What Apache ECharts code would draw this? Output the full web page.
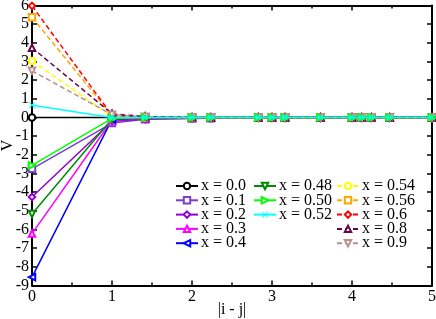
<!DOCTYPE html>
<html>
<head>
<meta charset="utf-8">
<script src="https://cdn.jsdelivr.net/npm/echarts@6/dist/echarts.min.js"></script>
<style>html,body{margin:0;padding:0;background:#fff}#c{width:436px;height:319px}</style>
</head>
<body>
<div id="c"></div>
<script>
// distances |i - j|
var xs = [0, 1, 1.4142, 2, 2.2361, 2.8284, 3, 3.1623, 3.6056, 4, 4.1231, 4.2426, 4.4721, 5];
var names = ['x = 0.0','x = 0.1','x = 0.2','x = 0.3','x = 0.4','x = 0.48','x = 0.50','x = 0.52','x = 0.54','x = 0.56','x = 0.6','x = 0.8','x = 0.9'];
var v00 = [0, 0, 0, 0, 0, 0, 0, 0, 0, 0, 0, 0, 0, 0];
var v01 = [-2.75, -0.3, -0.1, -0.05, -0.04, -0.02, -0.01, -0.01, 0, 0, 0, 0, 0, 0];
var v02 = [-4.26, -0.2, -0.08, -0.04, -0.03, -0.01, -0.01, 0, 0, 0, 0, 0, 0, 0];
var v03 = [-6.22, -0.15, -0.05, -0.02, -0.01, 0, 0, 0, 0, 0, 0, 0, 0, 0];
var v04 = [-8.55, -0.1, -0.03, -0.01, 0, 0, 0, 0, 0, 0, 0, 0, 0, 0];
var v048 = [-5.17, -0.08, -0.02, 0, 0, 0, 0, 0, 0, 0, 0, 0, 0, 0];
var v050 = [-2.57, -0.05, -0.01, 0, 0, 0, 0, 0, 0, 0, 0, 0, 0, 0];
var v052 = [0.66, 0, 0, 0, 0, 0, 0, 0, 0, 0, 0, 0, 0, 0];
var v054 = [3.03, 0.05, 0.01, 0, 0, 0, 0, 0, 0, 0, 0, 0, 0, 0];
var v056 = [5.37, 0.1, 0.02, 0, 0, 0, 0, 0, 0, 0, 0, 0, 0, 0];
var v06 = [5.98, 0.12, 0.03, 0.01, 0, 0, 0, 0, 0, 0, 0, 0, 0, 0];
var v08 = [3.74, 0.2, 0.05, 0.01, 0, 0, 0, 0, 0, 0, 0, 0, 0, 0];
var v09 = [2.5, 0.15, 0.04, 0.01, 0, 0, 0, 0, 0, 0, 0, 0, 0, 0];
var values = [v00, v01, v02, v03, v04, v048, v050, v052, v054, v056, v06, v08, v09];
var xTicks = [0, 1, 2, 3, 4, 5];
var yTicks = [-9, -8, -7, -6, -5, -4, -3, -2, -1, 0, 1, 2, 3, 4, 5, 6];

var colors = ['#000000','#7a3fcc','#9400d3','#ff00ff','#0000ff','#008b00','#00ff00','#00ffff','#ffff00','#ffa500','#ff0000','#670748','#bc8f8f'];
var cross = 'path://M0,1L1,0L5,4L9,0L10,1L6,5L10,9L9,10L5,6L1,10L0,9L4,5Z';
var symbols = ['emptyCircle','emptyRect','emptyDiamond','emptyTriangle','emptyTriangle','emptyTriangle','emptyTriangle',cross,'emptyCircle','emptyRect','emptyDiamond','emptyTriangle','emptyTriangle'];
var rotates = [0,0,0,0,90,180,-90,0,0,0,0,0,180];
var dashed = [false,false,false,false,false,false,false,false,true,true,true,true,true];
var layer = [2,2,2,2,2,2,4,5,2,2,2,2,2];

var font = 'Liberation Serif';
var series = names.map(function(n, i){
  return {
    name: n, type: 'line', z: layer[i],
    data: xs.map(function(x, k){ return [x, values[i][k]]; }),
    symbol: symbols[i], symbolRotate: rotates[i],
    symbolSize: 6.5,
    clip: false,
    lineStyle: {color: colors[i], width: 1.5, type: dashed[i] ? [5, 3] : 'solid'},
    itemStyle: {color: colors[i], borderWidth: 1},
    emphasis: {disabled: true},
    animation: false
  };
});

function legend(data, left, top){
  return {
    data: data, orient: 'vertical', left: left, top: top,
    itemWidth: 22, itemHeight: 8, itemGap: -1.7, padding: 0,
    textStyle: {fontFamily: font, fontSize: 16, color: '#000', padding: [0,0,0,-2]},
    selectedMode: false
  };
}

function xLabel(v){ return xTicks.indexOf(v) >= 0 ? String(v) : ''; }
function yLabel(v){ return yTicks.indexOf(v) >= 0 ? String(v) : ''; }

var chart = echarts.init(document.getElementById('c'), null, {renderer: 'canvas'});
chart.setOption({
  animation: false,
  backgroundColor: '#fff',
  grid: {left: 32, right: 4, top: 5.5, bottom: 33.5, containLabel: false, outerBoundsMode: 'none'},
  legend: [
    legend(names.slice(0, 5), 175, 178),
    legend(names.slice(5, 8), 253, 178),
    legend(names.slice(8, 13), 336, 178)
  ],
  xAxis: [{
    type: 'value', min: 0, max: 5, interval: 1, position: 'bottom',
    name: '|i - j|', nameLocation: 'middle', nameGap: 16, nameMoveOverlap: false,
    nameTextStyle: {fontFamily: font, fontSize: 16, color: '#000'},
    axisLine: {onZero: false, lineStyle: {color: '#000', width: 2}},
    axisTick: {inside: true, length: 5, lineStyle: {color: '#000', width: 1.5}},
    minorTick: {show: true, splitNumber: 2, length: 3, lineStyle: {color: '#000', width: 1.5}},
    axisLabel: {fontFamily: font, fontSize: 16, color: '#000', margin: 3, formatter: xLabel},
    splitLine: {show: false}
  }, {
    type: 'value', min: 0, max: 5, interval: 1, position: 'top',
    axisLine: {onZero: false, lineStyle: {color: '#000', width: 2}},
    axisTick: {inside: true, length: 5, lineStyle: {color: '#000', width: 1.5}},
    minorTick: {show: true, splitNumber: 2, length: 3, lineStyle: {color: '#000', width: 1.5}},
    axisLabel: {show: false}, splitLine: {show: false}
  }],
  yAxis: [{
    type: 'value', min: -9, max: 6, interval: 1, position: 'left',
    name: 'V', nameLocation: 'middle', nameGap: 16, nameRotate: 90, nameMoveOverlap: false,
    nameTextStyle: {fontFamily: font, fontSize: 16, color: '#000'},
    axisLine: {onZero: false, lineStyle: {color: '#000', width: 2}},
    axisTick: {inside: true, length: 5, lineStyle: {color: '#000', width: 1.5}},
    axisLabel: {fontFamily: font, fontSize: 16, color: '#000', margin: 3, formatter: yLabel},
    splitLine: {show: false}
  }, {
    type: 'value', min: -9, max: 6, interval: 1, position: 'right',
    axisLine: {onZero: false, lineStyle: {color: '#000', width: 2}},
    axisTick: {inside: true, length: 5, lineStyle: {color: '#000', width: 1.5}},
    axisLabel: {show: false}, splitLine: {show: false}
  }],
  series: series
});
</script>
</body>
</html>
